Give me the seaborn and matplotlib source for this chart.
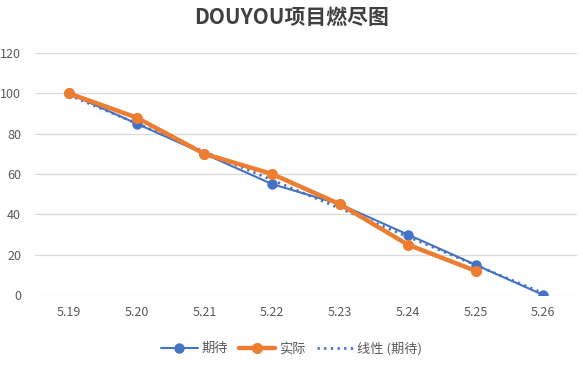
import numpy as np
import pandas as pd
import seaborn as sns
import matplotlib.pyplot as plt

# data
dates = ['5.19', '5.20', '5.21', '5.22', '5.23', '5.24', '5.25', '5.26']
expected = [100, 85, 70, 55, 45, 30, 15, 0]
actual = [100, 88, 70, 60, 45, 25, 12]

blue = '#4472C4'
orange = '#ED7D31'

sns.set_style('white')
plt.rcParams['font.family'] = ['Noto Sans CJK SC', 'DejaVu Sans']

df_exp = pd.DataFrame({'pos': np.arange(len(expected)), 'val': expected})
df_act = pd.DataFrame({'pos': np.arange(len(actual)), 'val': actual})

# linear trend of expected
k, b = np.polyfit(df_exp['pos'], df_exp['val'], 1)
df_trend = pd.DataFrame({'pos': df_exp['pos'], 'val': k * df_exp['pos'] + b})

fig = plt.figure(figsize=(5.83, 3.66), dpi=100)
ax = fig.add_axes([0.060, 0.194, 0.930, 0.661])

sns.lineplot(data=df_trend, x='pos', y='val', ax=ax, color=blue, lw=2,
             linestyle=(0, (0.8, 1.6)), label='线性 (期待)', zorder=2)
sns.lineplot(data=df_exp, x='pos', y='val', ax=ax, color=blue, lw=1.5,
             marker='o', markersize=7.5, markeredgewidth=0, label='期待', zorder=3)
sns.lineplot(data=df_act, x='pos', y='val', ax=ax, color=orange, lw=3.2,
             marker='o', markersize=8, markeredgewidth=0, label='实际', zorder=4)

ax.set_xlim(-0.5, len(dates) - 0.5)
ax.set_ylim(0, 120)
ax.set_yticks(range(0, 121, 20))
ax.set_xticks(range(len(dates)))
ax.set_xticklabels(dates)
ax.set_xlabel('')
ax.set_ylabel('')
ax.yaxis.grid(True, color='#D9D9D9', lw=0.9)
ax.set_axisbelow(True)
for s in ax.spines.values():
    s.set_visible(False)
ax.tick_params(axis='both', length=0, labelsize=9, colors='#595959', pad=8)
ax.tick_params(axis='y', pad=10)

fig.suptitle('DOUYOU项目燃尽图', x=0.5, y=0.98, fontsize=15, fontweight='bold', color='#404040')

h, l = ax.get_legend_handles_labels()
order = [1, 2, 0]
ax.get_legend().remove()
fig.legend([h[i] for i in order], [l[i] for i in order], loc='center', bbox_to_anchor=(0.5, 0.048),
           ncol=3, frameon=False, fontsize=9.5, labelcolor='#595959', handlelength=2.8,
           columnspacing=0.8, handletextpad=0.3)

fig.savefig('out.png', dpi=100)
